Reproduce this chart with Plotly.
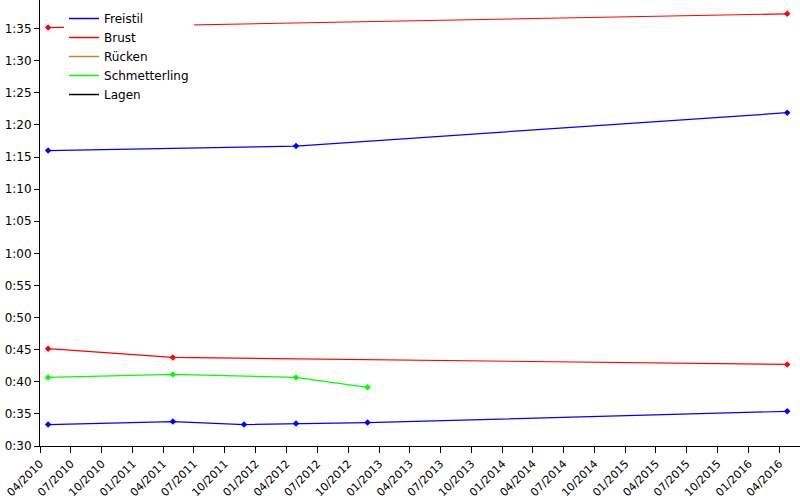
import plotly.graph_objects as go

# ---- data (times in seconds) ----
free100_dates = ["2010-04-25", "2012-04-29", "2016-04-24"]
free100_times = [76.0, 76.7, 81.9]

breast100_dates = ["2010-04-25", "2016-04-24"]
breast100_times = [95.15, 97.3]

free50_dates = ["2010-04-25", "2011-04-30", "2011-11-27", "2012-04-29", "2012-11-27", "2016-04-24"]
free50_times = [33.33, 33.8, 33.33, 33.49, 33.64, 35.4]

breast50_dates = ["2010-04-25", "2011-04-30", "2016-04-24"]
breast50_times = [45.15, 43.8, 42.7]

fly50_dates = ["2010-04-25", "2011-04-30", "2012-04-29", "2012-11-27"]
fly50_times = [40.68, 41.15, 40.68, 39.13]

y_tick_vals = list(range(30, 100, 5))
y_tick_text = ["0:30", "0:35", "0:40", "0:45", "0:50", "0:55", "1:00",
               "1:05", "1:10", "1:15", "1:20", "1:25", "1:30", "1:35"]

series = [
    ("Freistil", "#0000ff", [(free50_dates, free50_times), (free100_dates, free100_times)]),
    ("Brust", "#ff0000", [(breast50_dates, breast50_times), (breast100_dates, breast100_times)]),
    ("Rücken", "#b8902a", []),
    ("Schmetterling", "#00ff00", [(fly50_dates, fly50_times)]),
    ("Lagen", "#000000", []),
]

fig = go.Figure()
for name, color, parts in series:
    # legend-only entry (line sample, no marker)
    fig.add_trace(go.Scatter(x=[None], y=[None], mode="lines", name=name,
                             legendgroup=name, line=dict(color=color, width=1.5)))
    for xs, ys in parts:
        fig.add_trace(go.Scatter(
            x=xs, y=ys, mode="lines+markers", name=name, legendgroup=name,
            showlegend=False,
            line=dict(color=color, width=1.2),
            marker=dict(symbol="diamond", size=5, color=color),
        ))

axis_font = dict(family="DejaVu Sans", size=12, color="#000000")
xtick_font = dict(family="DejaVu Sans", size=11, color="#000000")

fig.update_layout(
    width=800, height=500,
    margin=dict(l=40, r=0, t=0, b=54),
    paper_bgcolor="white", plot_bgcolor="white",
    font=axis_font,
    showlegend=True,
    legend=dict(
        x=0.0316, y=0.991, xanchor="left", yanchor="top",
        bgcolor="white", borderwidth=0,
        font=dict(family="DejaVu Sans", size=12, color="#000000"),
        itemwidth=30, tracegroupgap=0,
    ),
    xaxis=dict(
        type="date", range=["2010-04-01", "2016-06-01"],
        tick0="2010-04-01", dtick="M3", tickformat="%m/%Y",
        tickangle=-45, ticks="outside", ticklen=6, tickcolor="black",
        showline=True, linecolor="black", linewidth=1,
        showgrid=False, zeroline=False, tickfont=xtick_font, automargin=False,
    ),
    yaxis=dict(
        range=[30, 99.45], tickvals=y_tick_vals, ticktext=y_tick_text,
        ticks="outside", ticklen=5, tickcolor="black",
        showline=True, linecolor="black", linewidth=1,
        showgrid=False, zeroline=False, tickfont=axis_font, automargin=False,
    ),
    xaxis2=dict(
        type="date", overlaying="x", matches="x",
        tick0="2010-04-01", dtick="M3", ticks="inside", ticklen=6,
        tickcolor="black", showticklabels=False, showgrid=False,
        zeroline=False, showline=False, automargin=False,
    ),
    yaxis2=dict(
        overlaying="y", matches="y", tickvals=y_tick_vals,
        ticks="inside", ticklen=5, tickcolor="black",
        showticklabels=False, showgrid=False, zeroline=False, showline=False,
        automargin=False,
    ),
)

fig.write_html(
    "out.html",
    config={"displayModeBar": False},
    post_script="document.body.style.margin='0';document.body.style.padding='0';",
)
